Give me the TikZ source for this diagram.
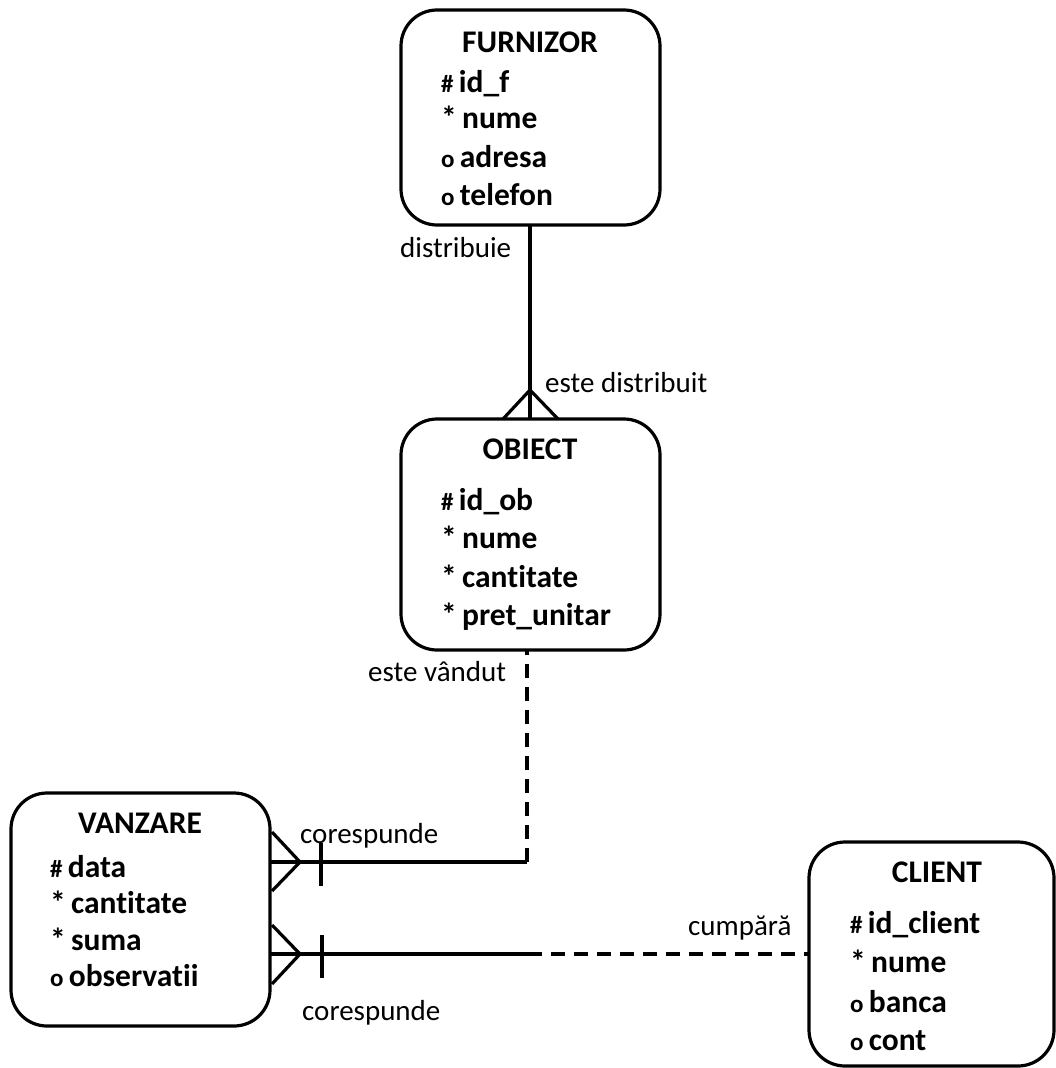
\documentclass[tikz,border=0pt]{standalone}
\usepackage{fontspec}
\setmainfont{Carlito}[Ligatures={NoCommon,NoRequired}]
\usetikzlibrary{calc}
\begin{document}
\begin{tikzpicture}[x=1pt,y=-1pt,
  entity/.style={draw,line width=3.2pt,rounded corners=36pt,inner sep=0pt},
  title/.style={font=\fontsize{31.5}{31.5}\selectfont\bfseries,anchor=base,inner sep=0pt},
  attr/.style={font=\fontsize{31.5}{31.5}\selectfont\bfseries,anchor=base west,inner sep=0pt},
  rel/.style={font=\fontsize{29}{29}\selectfont,anchor=base west,inner sep=0pt},
  link/.style={line width=3.2pt},
  opt/.style={line width=3.2pt,dash pattern=on 14pt off 9pt},
  bar/.style={line width=4.6pt}]
\useasboundingbox (0,0) rectangle (1056,1068);
% attribute markers
\newcommand{\pk}{{\fontsize{25}{25}\selectfont\#}\,}
\newcommand{\mand}{*\,}
\newcommand{\optl}{{\fontsize{25}{25}\selectfont o}\,}

% ---- entities ----
\draw[entity] (401,10) rectangle (660,225);
\coordinate (furn-s) at (530,225);
\node[title] (furn-t) at (530,52) {FURNIZOR};
\node[attr] (furn-a1) at (441,92) {\pk id\_f};
\node[attr] (furn-a2) at (441,128) {\mand nume};
\node[attr] (furn-a3) at (441,167) {\optl adresa};
\node[attr] (furn-a4) at (441,205) {\optl telefon};

\draw[entity] (401,419) rectangle (660,650);
\coordinate (obj-n) at (530,419);
\coordinate (obj-s) at (527,650);
\node[title] (obj-t) at (530,459) {OBIECT};
\node[attr] (obj-a1) at (441,510) {\pk id\_ob};
\node[attr] (obj-a2) at (441,548) {\mand nume};
\node[attr] (obj-a3) at (441,587) {\mand cantitate};
\node[attr] (obj-a4) at (441,625) {\mand pret\_unitar};

\draw[entity] (11,793) rectangle (270,1026);
\coordinate (vz-e1) at (270,862);
\coordinate (vz-e2) at (270,954);
\node[title] (vz-t) at (140,833) {VANZARE};
\node[attr] (vz-a1) at (50,877) {\pk data};
\node[attr] (vz-a2) at (50,913) {\mand cantitate};
\node[attr] (vz-a3) at (50,950) {\mand suma};
\node[attr] (vz-a4) at (50,986) {\optl observatii};

\draw[entity] (809,842) rectangle (1054,1066);
\coordinate (cl-w) at (809,954);
\node[title] (cl-t) at (937,882) {CLIENT};
\node[attr] (cl-a1) at (850,933) {\pk id\_client};
\node[attr] (cl-a2) at (850,972) {\mand nume};
\node[attr] (cl-a3) at (850,1012) {\optl banca};
\node[attr] (cl-a4) at (850,1050) {\optl cont};

% ---- FURNIZOR -- OBIECT (one to many) ----
\draw[link] (furn-s) -- (obj-n);
\coordinate (cf1) at (530,390);
\draw[link] (503,419) -- (cf1) -- (558,419);
\node[rel] (r1) at (400,257) {distribuie};
\node[rel] (r2) at (545,392) {este distribuit};

% ---- OBIECT -- VANZARE ----
\coordinate (k1) at (527,862);
\draw[opt] (k1) -- (obj-s);
\draw[link] (k1) -- (vz-e1);
\draw[link] (272,832) -- (300,862) -- (272,891);
\draw[bar] (321,843) -- (321,886);
\node[rel] (r3) at (368,681) {este vândut};
\node[rel] (r4) at (300,843) {corespunde};

% ---- CLIENT -- VANZARE ----
\coordinate (k2) at (528,954);
\draw[link] (vz-e2) -- (k2);
\draw[opt] (k2) -- (cl-w);
\draw[link] (272,925) -- (300,954) -- (272,984);
\draw[bar] (322,935) -- (322,978);
\node[rel] (r5) at (688,935) {cumpără};
\node[rel] (r6) at (302,1020) {corespunde};
\end{tikzpicture}
\end{document}
